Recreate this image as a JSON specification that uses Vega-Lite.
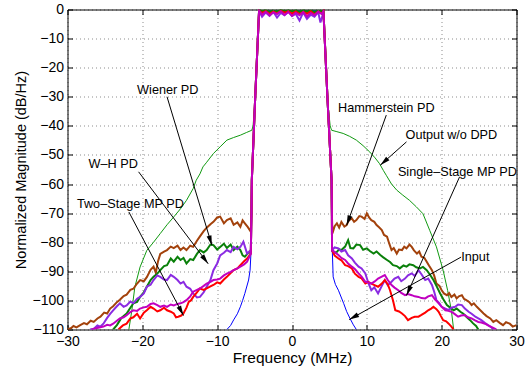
{
  "$schema": "https://vega.github.io/schema/vega-lite/v6.json",
  "width": 449,
  "height": 320,
  "autosize": {"type": "none"},
  "padding": {"left": 67.5, "top": 9.5, "right": 13.5, "bottom": 39.5},
  "background": "white",
  "config": {
    "font": "Liberation Sans",
    "view": {"stroke": "black", "strokeWidth": 1},
    "axis": {
      "domain": false,
      "tickColor": "black",
      "tickSize": -5,
      "tickWidth": 1,
      "labelFont": "Liberation Sans",
      "labelFontSize": 14,
      "labelColor": "black",
      "gridColor": "#000",
      "gridDash": [1, 3],
      "gridOpacity": 0.45,
      "titleFont": "Liberation Sans",
      "titleFontWeight": "normal",
      "titleColor": "black"
    }
  },
  "datasets": {
    "output": [
      {"f": -21.8, "db": -110}, {"f": -21.4, "db": -103.4}, {"f": -21, "db": -95.4}, {"f": -20.3, "db": -88.5}, {"f": -19.4, "db": -82.8}, {"f": -18.5, "db": -80}, {"f": -17.6, "db": -77}, {"f": -16.7, "db": -74}, {"f": -15.8, "db": -71.3}, {"f": -14.9, "db": -68.5}, {"f": -14.1, "db": -65.6}, {"f": -13.2, "db": -61.5}, {"f": -12.8, "db": -58.7}, {"f": -12.3, "db": -56.5}, {"f": -11.9, "db": -54.1}, {"f": -11.4, "db": -52.5}, {"f": -10.5, "db": -49.5}, {"f": -9.6, "db": -47.2}, {"f": -8.7, "db": -44.9}, {"f": -7.8, "db": -44}, {"f": -6.9, "db": -43.2}, {"f": -6.1, "db": -42.3}, {"f": -5.37, "db": -41.5}, {"f": -5.2, "db": -40}, {"f": -4.93, "db": -31}, {"f": -4.4, "db": -0.3},
      {"f": 4.2, "db": -0.3}, {"f": 4.75, "db": -31}, {"f": 5.1, "db": -40}, {"f": 5.29, "db": -41.5}, {"f": 6, "db": -42}, {"f": 6.84, "db": -42.6}, {"f": 7.7, "db": -43.6}, {"f": 8.6, "db": -44.9}, {"f": 9.5, "db": -46.8}, {"f": 10.4, "db": -49}, {"f": 11.1, "db": -51}, {"f": 11.7, "db": -53}, {"f": 12.2, "db": -55.3}, {"f": 12.6, "db": -57}, {"f": 13.3, "db": -60}, {"f": 14, "db": -62.1}, {"f": 14.8, "db": -63.8}, {"f": 15.7, "db": -65.6}, {"f": 16.6, "db": -67.8}, {"f": 17.5, "db": -70.2}, {"f": 18.4, "db": -75.9}, {"f": 19.3, "db": -81.6}, {"f": 20.2, "db": -89.7}, {"f": 20.8, "db": -96.6}, {"f": 21.3, "db": -103.5}, {"f": 21.6, "db": -110}
    ],
    "input": [
      {"f": -8.7, "db": -110}, {"f": -8.2, "db": -108.6}, {"f": -7.8, "db": -106.7}, {"f": -7.3, "db": -104.6}, {"f": -6.9, "db": -102.2}, {"f": -6.6, "db": -100}, {"f": -6.3, "db": -97.6}, {"f": -5.8, "db": -93}, {"f": -5.6, "db": -89.6}, {"f": -5.45, "db": -82}, {"f": -5.37, "db": -58.7}, {"f": -4.93, "db": -31}, {"f": -4.4, "db": -0.5}, {"f": 0, "db": -0.5}, {"f": 4.2, "db": -0.5}, {"f": 4.75, "db": -31}, {"f": 5.29, "db": -58.7}, {"f": 5.35, "db": -80}, {"f": 5.5, "db": -91.9}, {"f": 5.8, "db": -94.5}, {"f": 6.2, "db": -96.5}, {"f": 6.9, "db": -101}, {"f": 7.3, "db": -103.8}, {"f": 7.75, "db": -106.2}, {"f": 8.2, "db": -108.4}, {"f": 8.6, "db": -110}
    ],
    "ham": [
      {"f": -30, "db": -110}, {"f": -29.5, "db": -109.5}, {"f": -29.2, "db": -108.8}, {"f": -28.8, "db": -109.3}, {"f": -28.3, "db": -108.5}, {"f": -27.8, "db": -107.8}, {"f": -27.4, "db": -108.2}, {"f": -26.9, "db": -107}, {"f": -26.5, "db": -107.4}, {"f": -26, "db": -106.2}, {"f": -25.6, "db": -105.6}, {"f": -25.1, "db": -104.2}, {"f": -24.7, "db": -104.5}, {"f": -24.3, "db": -102.8}, {"f": -23.9, "db": -102}, {"f": -23.4, "db": -100.6}, {"f": -23, "db": -99.8}, {"f": -22.5, "db": -98.5}, {"f": -22.1, "db": -98}, {"f": -21.6, "db": -96.4}, {"f": -21.2, "db": -96}, {"f": -20.7, "db": -94.2}, {"f": -20.3, "db": -93}, {"f": -19.8, "db": -93.4}, {"f": -19.4, "db": -92}, {"f": -18.9, "db": -89.5}, {"f": -18.5, "db": -88.4}, {"f": -18.2, "db": -90.5}, {"f": -17.9, "db": -86.5}, {"f": -17.6, "db": -84}, {"f": -17.1, "db": -83.2}, {"f": -16.7, "db": -82.7}, {"f": -16.2, "db": -81.5}, {"f": -15.8, "db": -82}, {"f": -15.3, "db": -81.2}, {"f": -14.9, "db": -82.7}, {"f": -14.5, "db": -81.8}, {"f": -14.1, "db": -82.7}, {"f": -13.6, "db": -81.2}, {"f": -13.2, "db": -81.6}, {"f": -12.7, "db": -79.5}, {"f": -12.3, "db": -78}, {"f": -11.8, "db": -76.2}, {"f": -11.4, "db": -75}, {"f": -10.9, "db": -73.8}, {"f": -10.5, "db": -73}, {"f": -10, "db": -71.5}, {"f": -9.6, "db": -71.2}, {"f": -9.1, "db": -73.5}, {"f": -8.7, "db": -72.4}, {"f": -8.2, "db": -71.8}, {"f": -7.8, "db": -74}, {"f": -7.3, "db": -73.2}, {"f": -6.9, "db": -74.7}, {"f": -6.6, "db": -72.5}, {"f": -6.3, "db": -73.5}, {"f": -5.9, "db": -74.8}, {"f": -5.5, "db": -76.4},
      {"f": -5.42, "db": -70}, {"f": -5.37, "db": -58.7}, {"f": -4.93, "db": -31},
      {"f": -4.4, "db": -0.3}, {"f": -4, "db": -0.8}, {"f": -3.5, "db": -0.4}, {"f": -3, "db": -1}, {"f": -2.5, "db": -0.5}, {"f": -2, "db": -0.9}, {"f": -1.5, "db": -0.3}, {"f": -1, "db": -0.7}, {"f": -0.5, "db": -0.4}, {"f": 0, "db": -0.8}, {"f": 0.5, "db": -0.5}, {"f": 1, "db": -1}, {"f": 1.5, "db": -0.4}, {"f": 2, "db": -0.9}, {"f": 2.5, "db": -0.5}, {"f": 3, "db": -1.1}, {"f": 3.5, "db": -0.6}, {"f": 4, "db": -0.8}, {"f": 4.2, "db": -0.4},
      {"f": 4.75, "db": -31}, {"f": 5.29, "db": -58.7}, {"f": 5.33, "db": -70},
      {"f": 5.4, "db": -77}, {"f": 5.7, "db": -74.5}, {"f": 6, "db": -73.5}, {"f": 6.3, "db": -75}, {"f": 6.6, "db": -73}, {"f": 7, "db": -74.6}, {"f": 7.3, "db": -74.1}, {"f": 7.6, "db": -72.5}, {"f": 8, "db": -71.8}, {"f": 8.3, "db": -73}, {"f": 8.6, "db": -72.4}, {"f": 9, "db": -71}, {"f": 9.3, "db": -71.2}, {"f": 9.7, "db": -72}, {"f": 10, "db": -70.1}, {"f": 10.3, "db": -71.5}, {"f": 10.6, "db": -72.4}, {"f": 11, "db": -73}, {"f": 11.3, "db": -74.1}, {"f": 11.6, "db": -74.8}, {"f": 12, "db": -75.8}, {"f": 12.3, "db": -77.5}, {"f": 12.7, "db": -78.1}, {"f": 13, "db": -80.5}, {"f": 13.3, "db": -82.7}, {"f": 13.6, "db": -82}, {"f": 14, "db": -83.9}, {"f": 14.3, "db": -82.5}, {"f": 14.7, "db": -82.7}, {"f": 15, "db": -81.5}, {"f": 15.3, "db": -82.1}, {"f": 15.7, "db": -80.8}, {"f": 16, "db": -81.6}, {"f": 16.3, "db": -82.8}, {"f": 16.7, "db": -83.9}, {"f": 17, "db": -83.2}, {"f": 17.3, "db": -85}, {"f": 17.7, "db": -85.4}, {"f": 18, "db": -86.7}, {"f": 18.3, "db": -88}, {"f": 18.7, "db": -89.6}, {"f": 19, "db": -91.5}, {"f": 19.3, "db": -94.2}, {"f": 19.7, "db": -95}, {"f": 20, "db": -96.5}, {"f": 20.3, "db": -97.6}, {"f": 20.7, "db": -98.2}, {"f": 21, "db": -97.5}, {"f": 21.3, "db": -98.8}, {"f": 21.7, "db": -98}, {"f": 22, "db": -99.3}, {"f": 22.3, "db": -98.6}, {"f": 22.7, "db": -98.2}, {"f": 23, "db": -99.5}, {"f": 23.3, "db": -99.9}, {"f": 23.7, "db": -100.6}, {"f": 24, "db": -101.6}, {"f": 24.3, "db": -101}, {"f": 24.7, "db": -102.2}, {"f": 25.1, "db": -103.2}, {"f": 25.6, "db": -104.5}, {"f": 26, "db": -105.4}, {"f": 26.5, "db": -106.2}, {"f": 26.9, "db": -107.4}, {"f": 27.3, "db": -106.8}, {"f": 27.8, "db": -107.8}, {"f": 28.2, "db": -108.5}, {"f": 28.6, "db": -107.5}, {"f": 29.1, "db": -108}, {"f": 29.5, "db": -109}, {"f": 30, "db": -108.5}
    ],
    "wiener": [
      {"f": -23.9, "db": -110}, {"f": -23.4, "db": -108.5}, {"f": -22.8, "db": -106}, {"f": -22.1, "db": -104.5}, {"f": -21.6, "db": -102.5}, {"f": -21.2, "db": -101}, {"f": -20.7, "db": -100.5}, {"f": -20.3, "db": -98.8}, {"f": -19.8, "db": -97.2}, {"f": -19.4, "db": -95.3}, {"f": -18.9, "db": -93}, {"f": -18.5, "db": -91.9}, {"f": -18, "db": -90.8}, {"f": -17.6, "db": -89.6}, {"f": -17.1, "db": -88.2}, {"f": -16.7, "db": -87.9}, {"f": -16.2, "db": -85.6}, {"f": -15.8, "db": -86.7}, {"f": -15.3, "db": -85}, {"f": -14.9, "db": -86.1}, {"f": -14.5, "db": -85.4}, {"f": -14.1, "db": -87.3}, {"f": -13.6, "db": -85.8}, {"f": -13.2, "db": -86.1}, {"f": -12.7, "db": -84}, {"f": -12.3, "db": -82.7}, {"f": -11.8, "db": -83.5}, {"f": -11.4, "db": -82.7}, {"f": -10.9, "db": -80.8}, {"f": -10.5, "db": -81}, {"f": -10, "db": -82.5}, {"f": -9.6, "db": -81.6}, {"f": -9.1, "db": -80.5}, {"f": -8.7, "db": -82}, {"f": -8.2, "db": -80.8}, {"f": -7.8, "db": -82.7}, {"f": -7.3, "db": -81.5}, {"f": -6.9, "db": -82.7}, {"f": -6.6, "db": -84.5}, {"f": -6.3, "db": -85}, {"f": -5.9, "db": -83.8}, {"f": -5.5, "db": -83.3},
      {"f": -5.42, "db": -70}, {"f": -5.37, "db": -58.7}, {"f": -4.93, "db": -31},
      {"f": -4.4, "db": -0.2}, {"f": -4, "db": -0.6}, {"f": -3.5, "db": -0.3}, {"f": -3, "db": -0.8}, {"f": -2.5, "db": -0.4}, {"f": -2, "db": -0.7}, {"f": -1.5, "db": -0.2}, {"f": -1, "db": -0.6}, {"f": -0.5, "db": -0.3}, {"f": 0, "db": -0.7}, {"f": 0.5, "db": -0.3}, {"f": 1, "db": -0.8}, {"f": 1.5, "db": -0.3}, {"f": 2, "db": -0.7}, {"f": 2.5, "db": -0.4}, {"f": 3, "db": -0.9}, {"f": 3.5, "db": -0.4}, {"f": 4, "db": -0.6}, {"f": 4.2, "db": -0.3},
      {"f": 4.75, "db": -31}, {"f": 5.29, "db": -58.7}, {"f": 5.33, "db": -70},
      {"f": 5.35, "db": -82.7}, {"f": 5.7, "db": -83.6}, {"f": 6, "db": -83.3}, {"f": 6.3, "db": -82.4}, {"f": 6.6, "db": -82.7}, {"f": 7.1, "db": -81.5}, {"f": 7.5, "db": -79.3}, {"f": 7.8, "db": -82}, {"f": 8.2, "db": -82.1}, {"f": 8.6, "db": -80.8}, {"f": 9.1, "db": -81}, {"f": 9.5, "db": -82.6}, {"f": 10, "db": -82.1}, {"f": 10.4, "db": -83}, {"f": 10.9, "db": -83.9}, {"f": 11.3, "db": -83.2}, {"f": 11.8, "db": -84.4}, {"f": 12.2, "db": -85.2}, {"f": 12.7, "db": -86.1}, {"f": 13.1, "db": -86.8}, {"f": 13.5, "db": -87.9}, {"f": 14, "db": -88.2}, {"f": 14.4, "db": -89}, {"f": 14.9, "db": -88}, {"f": 15.3, "db": -88.4}, {"f": 15.7, "db": -87.6}, {"f": 16.2, "db": -87.9}, {"f": 16.6, "db": -88.6}, {"f": 17.1, "db": -89}, {"f": 17.5, "db": -88.5}, {"f": 18, "db": -89.6}, {"f": 18.4, "db": -91}, {"f": 18.9, "db": -93}, {"f": 19.3, "db": -95}, {"f": 19.8, "db": -97.6}, {"f": 20.2, "db": -99.5}, {"f": 20.7, "db": -101.6}, {"f": 21.1, "db": -102.4}, {"f": 21.6, "db": -103.4}, {"f": 22, "db": -102.8}, {"f": 22.5, "db": -103.9}, {"f": 22.9, "db": -104.6}, {"f": 23.3, "db": -105.6}, {"f": 23.8, "db": -106.8}, {"f": 24.2, "db": -107.9}, {"f": 24.6, "db": -108.8}, {"f": 24.9, "db": -110}
    ],
    "wh": [
      {"f": -27, "db": -110}, {"f": -26.5, "db": -109.8}, {"f": -26, "db": -108.6}, {"f": -25.6, "db": -109}, {"f": -25.2, "db": -108}, {"f": -24.7, "db": -106}, {"f": -24.3, "db": -104.6}, {"f": -23.9, "db": -103.4}, {"f": -23.4, "db": -102}, {"f": -23, "db": -101}, {"f": -22.5, "db": -102.2}, {"f": -22.1, "db": -101.7}, {"f": -21.6, "db": -100.4}, {"f": -21.2, "db": -101}, {"f": -20.7, "db": -99.4}, {"f": -20.3, "db": -98.8}, {"f": -19.8, "db": -97.6}, {"f": -19.4, "db": -95.3}, {"f": -18.9, "db": -94.6}, {"f": -18.5, "db": -93}, {"f": -18, "db": -91.4}, {"f": -17.6, "db": -91.9}, {"f": -17.1, "db": -92.8}, {"f": -16.7, "db": -93}, {"f": -16.2, "db": -91.2}, {"f": -15.8, "db": -91.9}, {"f": -15.3, "db": -93}, {"f": -14.9, "db": -94.2}, {"f": -14.5, "db": -93.6}, {"f": -14.1, "db": -95.3}, {"f": -13.6, "db": -96}, {"f": -13.2, "db": -97.6}, {"f": -12.7, "db": -99}, {"f": -12.3, "db": -98.8}, {"f": -11.8, "db": -97.2}, {"f": -11.4, "db": -95.3}, {"f": -10.9, "db": -93}, {"f": -10.5, "db": -89.6}, {"f": -10, "db": -87.3}, {"f": -9.6, "db": -84.5}, {"f": -9.1, "db": -83.6}, {"f": -8.7, "db": -82.7}, {"f": -8.2, "db": -83.4}, {"f": -7.8, "db": -81.6}, {"f": -7.3, "db": -82.4}, {"f": -6.9, "db": -81.6}, {"f": -6.5, "db": -79.8}, {"f": -6, "db": -83.9}, {"f": -5.5, "db": -82.7},
      {"f": -5.42, "db": -70}, {"f": -5.37, "db": -58.7}, {"f": -4.93, "db": -31},
      {"f": -4.4, "db": -0.5}, {"f": -4, "db": -2.5}, {"f": -3.5, "db": -1}, {"f": -3, "db": -2.2}, {"f": -2.5, "db": -0.8}, {"f": -2, "db": -2.8}, {"f": -1.5, "db": -1.2}, {"f": -1, "db": -2}, {"f": -0.5, "db": -0.6}, {"f": 0, "db": -2.2}, {"f": 0.5, "db": -1.5}, {"f": 1, "db": -3.8}, {"f": 1.5, "db": -1}, {"f": 2, "db": -3.2}, {"f": 2.5, "db": -1.8}, {"f": 3, "db": -2.5}, {"f": 3.5, "db": -0.9}, {"f": 3.8, "db": -4.5}, {"f": 4.2, "db": -1},
      {"f": 4.75, "db": -31}, {"f": 5.29, "db": -58.7}, {"f": 5.33, "db": -70},
      {"f": 5.35, "db": -82.7}, {"f": 5.7, "db": -81.8}, {"f": 6.2, "db": -82.1}, {"f": 6.6, "db": -83.2}, {"f": 7.1, "db": -82.7}, {"f": 7.5, "db": -84.5}, {"f": 8, "db": -85.6}, {"f": 8.4, "db": -87}, {"f": 8.9, "db": -88.4}, {"f": 9.3, "db": -89}, {"f": 9.8, "db": -90.7}, {"f": 10.2, "db": -94}, {"f": 10.6, "db": -96.5}, {"f": 11, "db": -95.5}, {"f": 11.5, "db": -97.6}, {"f": 11.9, "db": -95.5}, {"f": 12.4, "db": -93}, {"f": 12.8, "db": -94.8}, {"f": 13.3, "db": -93.6}, {"f": 13.7, "db": -92.5}, {"f": 14.2, "db": -91.9}, {"f": 14.6, "db": -93.4}, {"f": 15.1, "db": -92.5}, {"f": 15.5, "db": -91.4}, {"f": 16, "db": -90.7}, {"f": 16.4, "db": -91.6}, {"f": 16.9, "db": -89.6}, {"f": 17.3, "db": -91}, {"f": 17.8, "db": -93}, {"f": 18.2, "db": -92.5}, {"f": 18.7, "db": -94.7}, {"f": 19, "db": -97}, {"f": 19.3, "db": -99.9}, {"f": 19.7, "db": -101}, {"f": 20, "db": -102.2}, {"f": 20.5, "db": -102.8}, {"f": 20.9, "db": -103.3}, {"f": 21.3, "db": -102.5}, {"f": 21.8, "db": -102.2}, {"f": 22.2, "db": -101.4}, {"f": 22.7, "db": -101.6}, {"f": 23.1, "db": -102.8}, {"f": 23.6, "db": -103.9}, {"f": 24, "db": -104.6}, {"f": 24.5, "db": -105.6}, {"f": 24.9, "db": -106.2}, {"f": 25.3, "db": -106.8}, {"f": 25.8, "db": -107.8}, {"f": 26.2, "db": -108.5}, {"f": 26.6, "db": -109.2}, {"f": 26.9, "db": -110}
    ],
    "two": [
      {"f": -23.2, "db": -110}, {"f": -22.6, "db": -108.6}, {"f": -22.1, "db": -108}, {"f": -21.6, "db": -106.2}, {"f": -21.2, "db": -105.8}, {"f": -20.7, "db": -104.6}, {"f": -20.3, "db": -106.2}, {"f": -19.8, "db": -104.2}, {"f": -19.4, "db": -103.4}, {"f": -18.9, "db": -102.2}, {"f": -18.5, "db": -102.8}, {"f": -18, "db": -103.8}, {"f": -17.6, "db": -103.4}, {"f": -17.1, "db": -102.5}, {"f": -16.7, "db": -103.4}, {"f": -16.2, "db": -103.9}, {"f": -15.8, "db": -104.5}, {"f": -15.5, "db": -105.8}, {"f": -15.2, "db": -105.6}, {"f": -14.8, "db": -105.2}, {"f": -14.5, "db": -104.5}, {"f": -14.1, "db": -102.5}, {"f": -13.8, "db": -100.5}, {"f": -13.5, "db": -100}, {"f": -13.2, "db": -98.8}, {"f": -12.7, "db": -97.2}, {"f": -12.3, "db": -95.9}, {"f": -11.8, "db": -96.4}, {"f": -11.4, "db": -95.9}, {"f": -10.9, "db": -95.2}, {"f": -10.5, "db": -94.7}, {"f": -10, "db": -93.8}, {"f": -9.6, "db": -94.2}, {"f": -9.1, "db": -92.8}, {"f": -8.7, "db": -91.9}, {"f": -8.2, "db": -90.6}, {"f": -7.8, "db": -89.6}, {"f": -7.3, "db": -89}, {"f": -6.9, "db": -87.9}, {"f": -6.4, "db": -86.5}, {"f": -6, "db": -85.6}, {"f": -5.5, "db": -83.9},
      {"f": -5.42, "db": -70}, {"f": -5.37, "db": -58.7}, {"f": -4.93, "db": -31},
      {"f": -4.4, "db": -0.4}, {"f": -4, "db": -1.2}, {"f": -3.5, "db": -0.6}, {"f": -3, "db": -1.5}, {"f": -2.5, "db": -0.7}, {"f": -2, "db": -1.3}, {"f": -1.5, "db": -0.5}, {"f": -1, "db": -1.1}, {"f": -0.5, "db": -0.6}, {"f": 0, "db": -1.4}, {"f": 0.5, "db": -0.7}, {"f": 1, "db": -1.6}, {"f": 1.5, "db": -0.8}, {"f": 2, "db": -1.5}, {"f": 2.5, "db": -0.6}, {"f": 3, "db": -1.8}, {"f": 3.5, "db": -0.7}, {"f": 4, "db": -1.4}, {"f": 4.2, "db": -0.5},
      {"f": 4.75, "db": -31}, {"f": 5.29, "db": -58.7}, {"f": 5.33, "db": -70},
      {"f": 5.35, "db": -82.7}, {"f": 5.7, "db": -84.6}, {"f": 6.2, "db": -85.6}, {"f": 6.6, "db": -86.2}, {"f": 7.1, "db": -87.9}, {"f": 7.5, "db": -88.2}, {"f": 8, "db": -89}, {"f": 8.4, "db": -90.8}, {"f": 8.9, "db": -91.9}, {"f": 9.3, "db": -92.4}, {"f": 9.8, "db": -94.2}, {"f": 10.2, "db": -93.6}, {"f": 10.6, "db": -94.2}, {"f": 11.1, "db": -94.8}, {"f": 11.5, "db": -95.3}, {"f": 12, "db": -94.2}, {"f": 12.4, "db": -93}, {"f": 12.8, "db": -94.5}, {"f": 13.1, "db": -96.5}, {"f": 13.5, "db": -100}, {"f": 13.8, "db": -103.4}, {"f": 14.3, "db": -103.8}, {"f": 14.7, "db": -104.5}, {"f": 15.1, "db": -105.4}, {"f": 15.5, "db": -106.8}, {"f": 16, "db": -106}, {"f": 16.4, "db": -105.6}, {"f": 16.9, "db": -105.6}, {"f": 17.3, "db": -105}, {"f": 17.8, "db": -104.2}, {"f": 18.2, "db": -103.4}, {"f": 18.6, "db": -102.8}, {"f": 18.9, "db": -102.2}, {"f": 19.3, "db": -103}, {"f": 19.6, "db": -103.9}, {"f": 19.9, "db": -105.4}, {"f": 20.2, "db": -106.8}, {"f": 20.6, "db": -107.2}, {"f": 20.9, "db": -107.9}, {"f": 21.3, "db": -109}, {"f": 21.6, "db": -110}
    ],
    "single": [
      {"f": -26.8, "db": -110}, {"f": -26.2, "db": -109.6}, {"f": -25.6, "db": -109.2}, {"f": -25.2, "db": -109}, {"f": -24.7, "db": -108.4}, {"f": -24.3, "db": -108.6}, {"f": -23.9, "db": -108}, {"f": -23.4, "db": -107}, {"f": -23, "db": -106.2}, {"f": -22.5, "db": -105.8}, {"f": -22.1, "db": -105.1}, {"f": -21.6, "db": -104}, {"f": -21.2, "db": -103.4}, {"f": -20.7, "db": -103.6}, {"f": -20.3, "db": -102.8}, {"f": -19.8, "db": -102.4}, {"f": -19.4, "db": -102.2}, {"f": -18.9, "db": -101.2}, {"f": -18.5, "db": -101}, {"f": -18, "db": -101.6}, {"f": -17.6, "db": -102.2}, {"f": -17.1, "db": -101.8}, {"f": -16.7, "db": -102.2}, {"f": -16.2, "db": -101.4}, {"f": -15.8, "db": -101.7}, {"f": -15.3, "db": -101.2}, {"f": -14.9, "db": -101}, {"f": -14.5, "db": -100.6}, {"f": -14.1, "db": -99.9}, {"f": -13.6, "db": -98.6}, {"f": -13.2, "db": -97}, {"f": -12.7, "db": -96.4}, {"f": -12.3, "db": -95.9}, {"f": -11.8, "db": -95}, {"f": -11.4, "db": -94.2}, {"f": -10.9, "db": -93.6}, {"f": -10.5, "db": -93}, {"f": -10, "db": -92.8}, {"f": -9.6, "db": -92.5}, {"f": -9.1, "db": -91.4}, {"f": -8.7, "db": -90.8}, {"f": -8.2, "db": -90.2}, {"f": -7.8, "db": -89.6}, {"f": -7.3, "db": -89}, {"f": -6.9, "db": -88.4}, {"f": -6.4, "db": -87.6}, {"f": -6, "db": -86.7}, {"f": -5.5, "db": -83.9},
      {"f": -5.42, "db": -70}, {"f": -5.37, "db": -58.7}, {"f": -4.93, "db": -31},
      {"f": -4.4, "db": -0.5}, {"f": -4, "db": -1.8}, {"f": -3.5, "db": -0.8}, {"f": -3, "db": -2}, {"f": -2.5, "db": -1}, {"f": -2, "db": -1.6}, {"f": -1.5, "db": -0.6}, {"f": -1, "db": -1.9}, {"f": -0.5, "db": -0.9}, {"f": 0, "db": -2.2}, {"f": 0.5, "db": -1.1}, {"f": 1, "db": -2}, {"f": 1.5, "db": -0.9}, {"f": 2, "db": -2.4}, {"f": 2.5, "db": -1.2}, {"f": 3, "db": -2}, {"f": 3.5, "db": -0.8}, {"f": 4, "db": -1.6}, {"f": 4.2, "db": -0.6},
      {"f": 4.75, "db": -31}, {"f": 5.29, "db": -58.7}, {"f": 5.33, "db": -70},
      {"f": 5.35, "db": -82.7}, {"f": 5.7, "db": -83.4}, {"f": 6.2, "db": -84.4}, {"f": 6.6, "db": -85.4}, {"f": 7.1, "db": -86.1}, {"f": 7.5, "db": -87.3}, {"f": 8, "db": -88.4}, {"f": 8.4, "db": -89.2}, {"f": 8.9, "db": -90.7}, {"f": 9.3, "db": -91.8}, {"f": 9.8, "db": -93.6}, {"f": 10.2, "db": -93.8}, {"f": 10.6, "db": -94.2}, {"f": 11.1, "db": -93.4}, {"f": 11.5, "db": -92.5}, {"f": 12, "db": -91.8}, {"f": 12.4, "db": -91.3}, {"f": 12.8, "db": -93}, {"f": 13.3, "db": -94.7}, {"f": 13.7, "db": -95.6}, {"f": 14.2, "db": -96.5}, {"f": 14.6, "db": -97.4}, {"f": 15.1, "db": -98.2}, {"f": 15.5, "db": -97.8}, {"f": 16, "db": -98.2}, {"f": 16.4, "db": -98.6}, {"f": 16.9, "db": -98.8}, {"f": 17.3, "db": -99.2}, {"f": 17.8, "db": -99.3}, {"f": 18.2, "db": -98.6}, {"f": 18.7, "db": -98.2}, {"f": 19.1, "db": -99.6}, {"f": 19.6, "db": -101}, {"f": 20, "db": -102.2}, {"f": 20.5, "db": -103.4}, {"f": 20.9, "db": -103.6}, {"f": 21.3, "db": -103.9}, {"f": 21.8, "db": -104.8}, {"f": 22.2, "db": -105.6}, {"f": 22.6, "db": -105.2}, {"f": 23.1, "db": -105}, {"f": 23.5, "db": -105.8}, {"f": 24, "db": -106.2}, {"f": 24.4, "db": -106.8}, {"f": 24.9, "db": -107.4}, {"f": 25.3, "db": -107.6}, {"f": 25.8, "db": -108}, {"f": 26.2, "db": -108.6}, {"f": 26.7, "db": -109.2}, {"f": 27.3, "db": -110}
    ],
    "notes": [
      {"label": "Wiener PD", "tf": -16.6, "tdb": -27.7, "af": -16.7, "adb": -30, "bf": -10.7, "bdb": -81.1},
      {"label": "W–H PD", "tf": -23.9, "tdb": -53.2, "af": -20.5, "adb": -55.8, "bf": -11.2, "bdb": -87.4},
      {"label": "Two–Stage MP PD", "tf": -21.6, "tdb": -67, "af": -21.8, "adb": -69.6, "bf": -14.5, "bdb": -105.2},
      {"label": "Hammerstein PD", "tf": 12.6, "tdb": -33.9, "af": 12.6, "adb": -36.3, "bf": 7.3, "bdb": -74.2},
      {"label": "Output w/o DPD", "tf": 21.3, "tdb": -43.2, "af": 15.3, "adb": -45.5, "bf": 11.8, "bdb": -53.5},
      {"label": "Single–Stage MP PD", "tf": 22.1, "tdb": -55.9, "af": 22.4, "adb": -57.5, "bf": 15.3, "bdb": -98.3},
      {"label": "Input", "tf": 24.5, "tdb": -85.2, "af": 22.6, "adb": -85.1, "bf": 7.65, "bdb": -106.6}
    ]
  },
  "resolve": {"axis": {"x": "independent", "y": "independent"}},
  "layer": [
    {
      "data": {"name": "output"},
      "mark": {"type": "line", "color": "#119911", "strokeWidth": 1, "clip": true},
      "encoding": {
        "x": {"field": "f", "type": "quantitative", "scale": {"domain": [-30, 30], "nice": false, "zero": false},
          "axis": {"orient": "bottom", "values": [-30, -20, -10, 0, 10, 20, 30], "grid": true, "title": "Frequency (MHz)", "titleFontSize": 15.5, "titleY": 33, "titleBaseline": "alphabetic", "labelPadding": 10, "labelFlush": false}},
        "y": {"field": "db", "type": "quantitative", "scale": {"domain": [-110, 0], "nice": false, "zero": false},
          "axis": {"orient": "left", "values": [0, -10, -20, -30, -40, -50, -60, -70, -80, -90, -100, -110], "grid": true, "title": "Normalized Magnitude (dB/Hz)", "titleFontSize": 14.5, "titleX": -42.5, "titleY": 160, "titleAngle": -90, "titleAlign": "center", "titleBaseline": "alphabetic", "labelPadding": 9, "labelFlush": false}}
      }
    },
    {
      "data": {"name": "notes"},
      "mark": {"type": "point", "opacity": 0},
      "encoding": {
        "x": {"field": "tf", "type": "quantitative", "scale": {"domain": [-30, 30], "nice": false, "zero": false},
          "axis": {"orient": "top", "values": [-30, -20, -10, 0, 10, 20, 30], "labels": false, "title": null, "grid": false}},
        "y": {"field": "tdb", "type": "quantitative", "scale": {"domain": [-110, 0], "nice": false, "zero": false},
          "axis": {"orient": "right", "values": [0, -10, -20, -30, -40, -50, -60, -70, -80, -90, -100, -110], "labels": false, "title": null, "grid": false}}
      }
    },
    {
      "data": {"name": "input"},
      "mark": {"type": "line", "color": "#0000FF", "strokeWidth": 1, "clip": true},
      "encoding": {
        "x": {"field": "f", "type": "quantitative", "scale": {"domain": [-30, 30], "nice": false, "zero": false}, "axis": null},
        "y": {"field": "db", "type": "quantitative", "scale": {"domain": [-110, 0], "nice": false, "zero": false}, "axis": null}
      }
    },
    {
      "data": {"name": "ham"},
      "mark": {"type": "line", "color": "#A3420C", "strokeWidth": 2, "clip": true},
      "encoding": {
        "x": {"field": "f", "type": "quantitative", "scale": {"domain": [-30, 30], "nice": false, "zero": false}, "axis": null},
        "y": {"field": "db", "type": "quantitative", "scale": {"domain": [-110, 0], "nice": false, "zero": false}, "axis": null}
      }
    },
    {
      "data": {"name": "wiener"},
      "mark": {"type": "line", "color": "#0A800A", "strokeWidth": 2, "clip": true},
      "encoding": {
        "x": {"field": "f", "type": "quantitative", "scale": {"domain": [-30, 30], "nice": false, "zero": false}, "axis": null},
        "y": {"field": "db", "type": "quantitative", "scale": {"domain": [-110, 0], "nice": false, "zero": false}, "axis": null}
      }
    },
    {
      "data": {"name": "wh"},
      "mark": {"type": "line", "color": "#8A2BE2", "strokeWidth": 2, "clip": true},
      "encoding": {
        "x": {"field": "f", "type": "quantitative", "scale": {"domain": [-30, 30], "nice": false, "zero": false}, "axis": null},
        "y": {"field": "db", "type": "quantitative", "scale": {"domain": [-110, 0], "nice": false, "zero": false}, "axis": null}
      }
    },
    {
      "data": {"name": "two"},
      "mark": {"type": "line", "color": "#FF0000", "strokeWidth": 2, "clip": true},
      "encoding": {
        "x": {"field": "f", "type": "quantitative", "scale": {"domain": [-30, 30], "nice": false, "zero": false}, "axis": null},
        "y": {"field": "db", "type": "quantitative", "scale": {"domain": [-110, 0], "nice": false, "zero": false}, "axis": null}
      }
    },
    {
      "data": {"name": "single"},
      "mark": {"type": "line", "color": "#C000C0", "strokeWidth": 2, "clip": true},
      "encoding": {
        "x": {"field": "f", "type": "quantitative", "scale": {"domain": [-30, 30], "nice": false, "zero": false}, "axis": null},
        "y": {"field": "db", "type": "quantitative", "scale": {"domain": [-110, 0], "nice": false, "zero": false}, "axis": null}
      }
    },
    {
      "data": {"name": "notes"},
      "mark": {"type": "rule", "color": "black", "strokeWidth": 1},
      "encoding": {
        "x": {"field": "af", "type": "quantitative", "scale": {"domain": [-30, 30], "nice": false, "zero": false}, "axis": null},
        "y": {"field": "adb", "type": "quantitative", "scale": {"domain": [-110, 0], "nice": false, "zero": false}, "axis": null},
        "x2": {"field": "bf"},
        "y2": {"field": "bdb"}
      }
    },
    {
      "data": {"name": "notes"},
      "transform": [
        {"calculate": "atan2(7.483 * (datum.bf - datum.af), 2.909 * (datum.bdb - datum.adb)) * 180 / PI", "as": "ang"}
      ],
      "mark": {"type": "point", "shape": "M0,0L-0.5,2L0.5,2Z", "filled": true, "color": "black", "opacity": 1, "strokeWidth": 0, "size": 100},
      "encoding": {
        "x": {"field": "bf", "type": "quantitative", "scale": {"domain": [-30, 30], "nice": false, "zero": false}, "axis": null},
        "y": {"field": "bdb", "type": "quantitative", "scale": {"domain": [-110, 0], "nice": false, "zero": false}, "axis": null},
        "angle": {"field": "ang", "type": "quantitative", "scale": null}
      }
    },
    {
      "data": {"name": "notes"},
      "mark": {"type": "text", "font": "Liberation Sans", "fontSize": 12.7, "color": "black", "align": "center", "baseline": "middle"},
      "encoding": {
        "x": {"field": "tf", "type": "quantitative", "scale": {"domain": [-30, 30], "nice": false, "zero": false}, "axis": null},
        "y": {"field": "tdb", "type": "quantitative", "scale": {"domain": [-110, 0], "nice": false, "zero": false}, "axis": null},
        "text": {"field": "label"}
      }
    }
  ]
}
